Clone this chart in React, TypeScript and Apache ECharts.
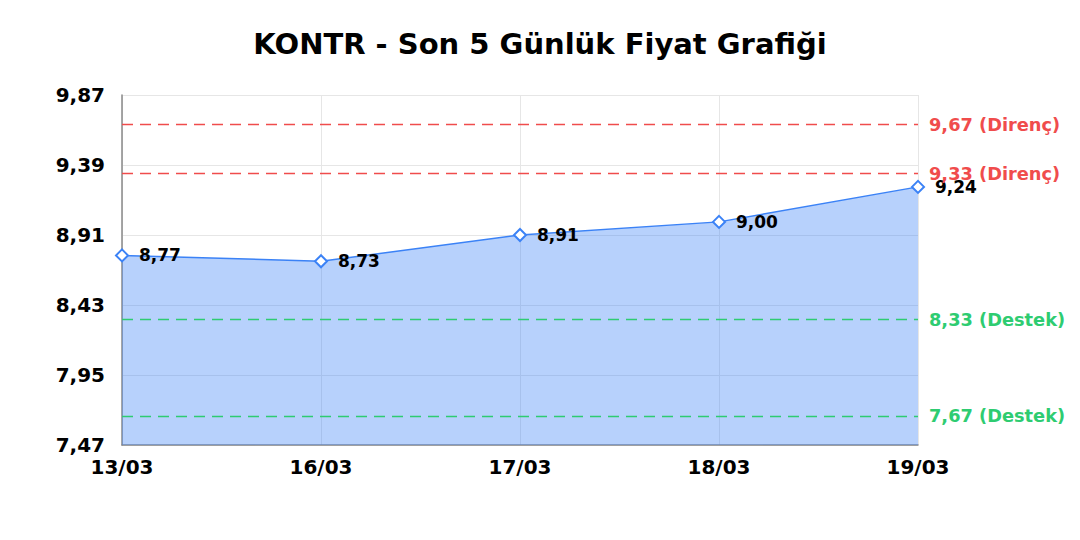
import React, { useEffect, useRef } from 'react';
import * as echarts from 'echarts';

const dates = ['13/03', '16/03', '17/03', '18/03', '19/03'];
const prices = [8.77, 8.73, 8.91, 9.0, 9.24];
const yTicks = [7.47, 7.95, 8.43, 8.91, 9.39, 9.87];
const resistance = [9.67, 9.33];
const support = [8.33, 7.67];

const fmt = (v: number) => v.toFixed(2).replace('.', ',');
const FONT = 'DejaVu Sans';

const App = () => {
  const chartRef = useRef<HTMLDivElement>(null);

  useEffect(() => {
    const chart = echarts.init(chartRef.current, null, { renderer: 'svg' });

    const levelLine = (v: number, color: string, name: string) => ({
      yAxis: v,
      lineStyle: { color, type: [11, 7], width: 1.3 },
      label: {
        show: true,
        position: 'end',
        distance: 11,
        formatter: `${fmt(v)} (${name})`,
        color,
        fontFamily: FONT,
        fontWeight: 'bold',
        fontSize: 17.8,
      },
    });

    chart.setOption({
      animation: false,
      title: {
        text: 'KONTR - Son 5 Günlük Fiyat Grafiği',
        left: 'center',
        top: 16,
        textStyle: { fontFamily: FONT, fontWeight: 'bold', fontSize: 29, color: '#000' },
      },
      grid: { left: 114, right: 154, top: 87, bottom: 87 },
      xAxis: {
        type: 'category',
        data: dates,
        boundaryGap: false,
        axisLine: { lineStyle: { color: '#888', width: 1.5 } },
        axisTick: { show: false },
        axisLabel: {
          interval: 0,
          margin: 12,
          color: '#000',
          fontFamily: FONT,
          fontWeight: 'bold',
          fontSize: 20,
        },
        splitLine: { show: true, lineStyle: { color: '#e6e6e6' } },
      },
      yAxis: {
        type: 'value',
        min: 7.47,
        max: 9.87,
        axisLine: { show: true, lineStyle: { color: '#888', width: 1.5 } },
        axisTick: { show: false, customValues: yTicks },
        axisLabel: {
          customValues: yTicks,
          margin: 17,
          color: '#000',
          fontFamily: FONT,
          fontWeight: 'bold',
          fontSize: 20,
          formatter: (v: number) => fmt(v),
        },
        splitLine: { show: true, lineStyle: { color: '#e6e6e6' } },
      },
      series: [
        {
          type: 'line',
          data: prices,
          symbol: 'emptyDiamond',
          symbolSize: 12,
          lineStyle: { color: '#3b82f6', width: 1.5 },
          itemStyle: { color: '#3b82f6', borderWidth: 2.2 },
          areaStyle: { color: '#3b82f6', opacity: 0.37 },
          label: {
            show: true,
            position: 'right',
            distance: 10,
            formatter: (p: any) => fmt(p.value),
            color: '#000',
            fontFamily: FONT,
            fontWeight: 'bold',
            fontSize: 17,
          },
          markLine: {
            silent: true,
            symbol: 'none',
            data: [
              ...resistance.map((v) => levelLine(v, '#f04c4c', 'Direnç')),
              ...support.map((v) => levelLine(v, '#2ecc71', 'Destek')),
            ],
          },
        },
      ],
    });

    return () => {
      chart.dispose();
    };
  }, []);

  return <div ref={chartRef} style={{ width: '1064px', height: '524px' }}></div>;
};

export default App;
